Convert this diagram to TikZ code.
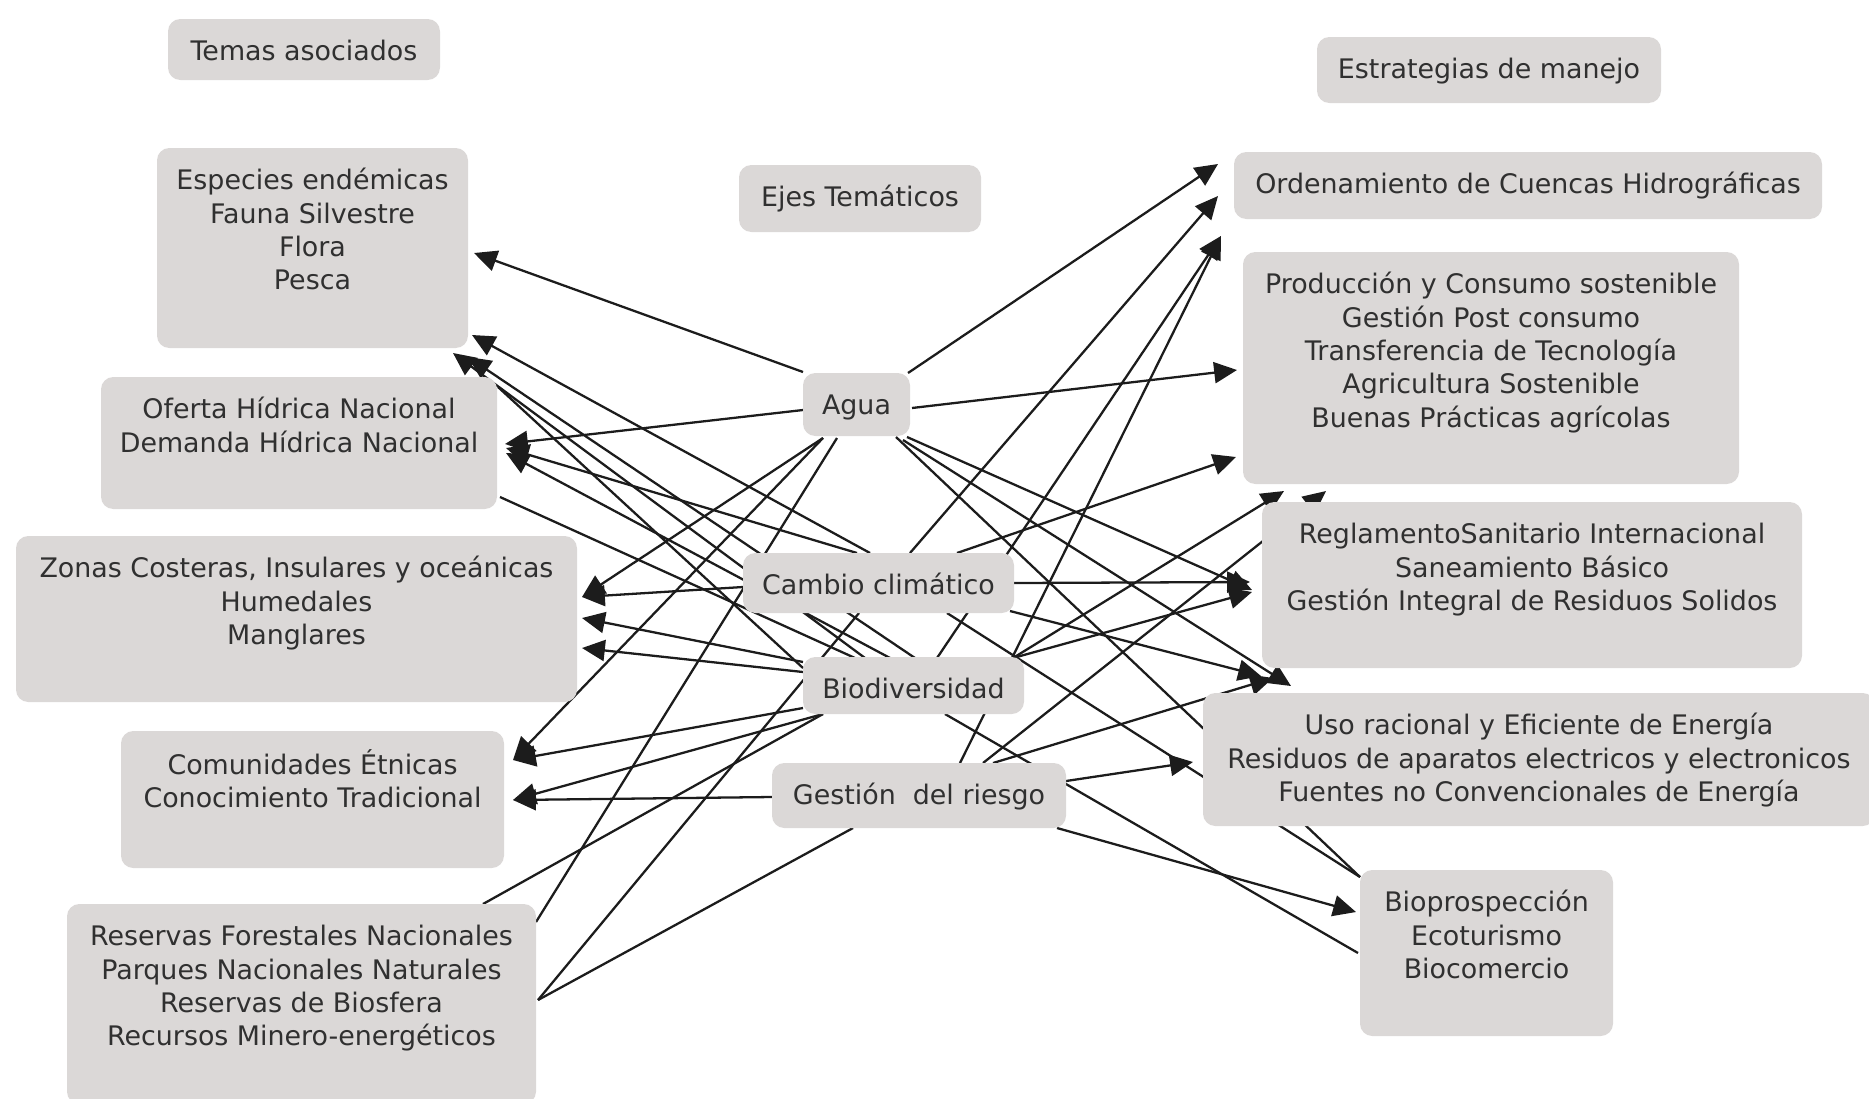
\documentclass[tikz,border=0pt]{standalone}
\usepackage{fontspec}
\setmainfont{DejaVu Sans}
\usetikzlibrary{arrows.meta,backgrounds}
\newdimen\pxu \pxu=0.2mm
\definecolor{boxgray}{RGB}{219,216,215}
\definecolor{txtgray}{RGB}{48,48,48}
\definecolor{linegray}{RGB}{28,28,28}
\newcommand{\bt}[3]{\parbox[c][#2\pxu][t]{#1\pxu}{\centering\vspace*{10.4pt}\strut#3}}
\tikzset{
  box/.style={fill=boxgray, rounded corners=7pt, inner sep=0pt, text=txtgray,
    font=\fontsize{15.3pt}{19pt}\selectfont},
  arr/.style={draw=linegray, line width=1.3pt, -{Triangle[length=13pt,width=12pt]}},
  ln/.style={draw=linegray, line width=1.3pt}
}
\begin{document}
\begin{tikzpicture}[x=0.2mm,y=-0.2mm]
\useasboundingbox (0,0) rectangle (1869,1098);
% headers
\node[box] (temas) at (304,49.5) {\bt{272}{61}{Temas asociados}};
\node[box] (ejes) at (860,198.5) {\bt{242}{67}{Ejes Temáticos}};
\node[box] (estr) at (1489,70) {\bt{344}{66}{Estrategias de manejo}};
% left
\node[box] (especies) at (312.5,248) {\bt{311}{200}{Especies endémicas\\Fauna Silvestre\\Flora\\Pesca}};
\node[box] (oferta) at (299,443) {\bt{396}{132}{Oferta Hídrica Nacional\\Demanda Hídrica Nacional}};
\node[box] (zonas) at (296.5,619) {\bt{561}{166}{Zonas Costeras, Insulares y oceánicas\\Humedales\\Manglares}};
\node[box] (comun) at (312.5,799.5) {\bt{383}{137}{Comunidades Étnicas\\Conocimiento Tradicional}};
\node[box] (reservas) at (301.5,1004) {\bt{469}{200}{Reservas Forestales Nacionales\\Parques Nacionales Naturales\\Reservas de Biosfera\\Recursos Minero-energéticos}};
% centre
\node[box] (agua) at (856.5,404.5) {\bt{107}{63}{Agua}};
\node[box] (cambio) at (878.5,583) {\bt{271}{60}{Cambio climático}};
\node[box] (biodiv) at (913.5,685.5) {\bt{221}{57}{Biodiversidad}};
\node[box] (gestion) at (919,795.5) {\bt{294}{65}{Gestión~ del riesgo}};
% right
\node[box] (orden) at (1528,185.5) {\bt{588}{67}{Ordenamiento de Cuencas Hidrográficas}};
\node[box] (produc) at (1491,368) {\bt{496}{232}{Producción y Consumo sostenible\\Gestión Post consumo\\Transferencia de Tecnología\\Agricultura Sostenible\\Buenas Prácticas agrícolas}};
\node[box] (regl) at (1532,585) {\bt{540}{166}{ReglamentoSanitario Internacional\\Saneamiento Básico\\Gestión Integral de Residuos Solidos}};
\node[box] (uso) at (1539,759.5) {\bt{672}{133}{Uso racional y Eficiente de Energía\\Residuos de aparatos electricos y electronicos\\Fuentes no Convencionales de Energía}};
\node[box] (bio) at (1486.5,953) {\bt{253}{166}{Bioprospección\\Ecoturismo\\Biocomercio}};

\begin{pgfonlayer}{background}
% Agua
\draw[arr] ([shift={(-53.5,-32.5)}]agua.center) -- ([shift={(161.5,5)}]especies.center);
\draw[arr] ([shift={(-53.5,5.5)}]agua.center) -- ([shift={(206,1)}]oferta.center);
\draw[arr] ([shift={(-33.5,33.5)}]agua.center) -- ([shift={(285.5,-22)}]zonas.center);
\draw[arr] ([shift={(-33.5,33.5)}]agua.center) -- ([shift={(200.5,-39.5)}]comun.center);
\draw[ln] ([shift={(-19.5,33.5)}]agua.center) -- ([shift={(234.5,-82)}]reservas.center);
\draw[arr] ([shift={(51.5,-31.5)}]agua.center) -- ([shift={(-310,-21.5)}]orden.center);
\draw[arr] ([shift={(55.5,3.5)}]agua.center) -- ([shift={(-254,2)}]produc.center);
\draw[arr] ([shift={(50.5,32.5)}]agua.center) -- ([shift={(-280,5)}]regl.center);
\draw[arr] ([shift={(46.5,35.5)}]agua.center) -- ([shift={(-248,-73.5)}]uso.center);
\draw[ln] ([shift={(39.5,32.5)}]agua.center) -- ([shift={(-126.5,-76)}]bio.center);
% Cambio climatico
\draw[arr] ([shift={(-8.5,-30)}]cambio.center) -- ([shift={(159.5,87)}]especies.center);
\draw[arr] ([shift={(-21.5,-30)}]cambio.center) -- ([shift={(207,5)}]oferta.center);
\draw[arr] ([shift={(-135.5,4)}]cambio.center) -- ([shift={(285.5,-22)}]zonas.center);
\draw[ln] ([shift={(-19.5,30)}]cambio.center) -- ([shift={(236.5,-4)}]reservas.center);
\draw[arr] ([shift={(31.5,-30)}]cambio.center) -- ([shift={(-310,10.5)}]orden.center);
\draw[arr] ([shift={(78.5,-30)}]cambio.center) -- ([shift={(-255,89)}]produc.center);
\draw[arr] ([shift={(135.5,0)}]cambio.center) -- ([shift={(-282,-3)}]regl.center);
\draw[arr] ([shift={(131.5,28)}]cambio.center) -- ([shift={(-278,-83.5)}]uso.center);
\draw[ln] ([shift={(68.5,30)}]cambio.center) -- ([shift={(-126.5,-76)}]bio.center);
% Biodiversidad
\draw[arr] ([shift={(-48.5,-27.5)}]biodiv.center) -- ([shift={(140.5,105)}]especies.center);
\draw[arr] ([shift={(1.5,-27.5)}]biodiv.center) -- ([shift={(155.5,109)}]especies.center);
\draw[arr] ([shift={(-23.5,-27.5)}]biodiv.center) -- ([shift={(207,10)}]oferta.center);
\draw[arr] ([shift={(-110.5,-23.5)}]biodiv.center) -- ([shift={(285.5,-1)}]zonas.center);
\draw[arr] ([shift={(-110.5,-13.5)}]biodiv.center) -- ([shift={(285.5,29)}]zonas.center);
\draw[arr] ([shift={(-110.5,22.5)}]biodiv.center) -- ([shift={(200.5,-39.5)}]comun.center);
\draw[arr] ([shift={(-90.5,28.5)}]biodiv.center) -- ([shift={(200.5,0.5)}]comun.center);
\draw[ln] ([shift={(-90.5,28.5)}]biodiv.center) -- ([shift={(181.5,-100)}]reservas.center);
\draw[arr] ([shift={(23.5,-27.5)}]biodiv.center) -- ([shift={(-307,50.5)}]orden.center);
\draw[arr] ([shift={(99.5,-27.5)}]biodiv.center) -- ([shift={(-207,123)}]produc.center);
\draw[arr] ([shift={(99.5,-27.5)}]biodiv.center) -- ([shift={(-280,7)}]regl.center);
\draw[ln] ([shift={(31.5,28.5)}]biodiv.center) -- ([shift={(-128.5,0)}]bio.center);
\draw[ln] ([shift={(201,54)}]oferta.center) -- ([shift={(-58.5,-27.5)}]biodiv.center);
\draw[ln] ([shift={(199,-56)}]oferta.center) -- ([shift={(-110.5,-17.5)}]biodiv.center);
% Gestion del riesgo
\draw[arr] ([shift={(-147,1.5)}]gestion.center) -- ([shift={(200.5,0.5)}]comun.center);
\draw[ln] ([shift={(-66,32.5)}]gestion.center) -- ([shift={(236.5,-4)}]reservas.center);
\draw[arr] ([shift={(41,-32.5)}]gestion.center) -- ([shift={(-307,50.5)}]orden.center);
\draw[arr] ([shift={(64,-32.5)}]gestion.center) -- ([shift={(-165,123)}]produc.center);
\draw[arr] ([shift={(74,-32.5)}]gestion.center) -- ([shift={(-266,-81.5)}]uso.center);
\draw[arr] ([shift={(147,-14.5)}]gestion.center) -- ([shift={(-346,2.5)}]uso.center);
\draw[arr] ([shift={(138,32.5)}]gestion.center) -- ([shift={(-130.5,-41)}]bio.center);
\end{pgfonlayer}
\end{tikzpicture}
\end{document}
